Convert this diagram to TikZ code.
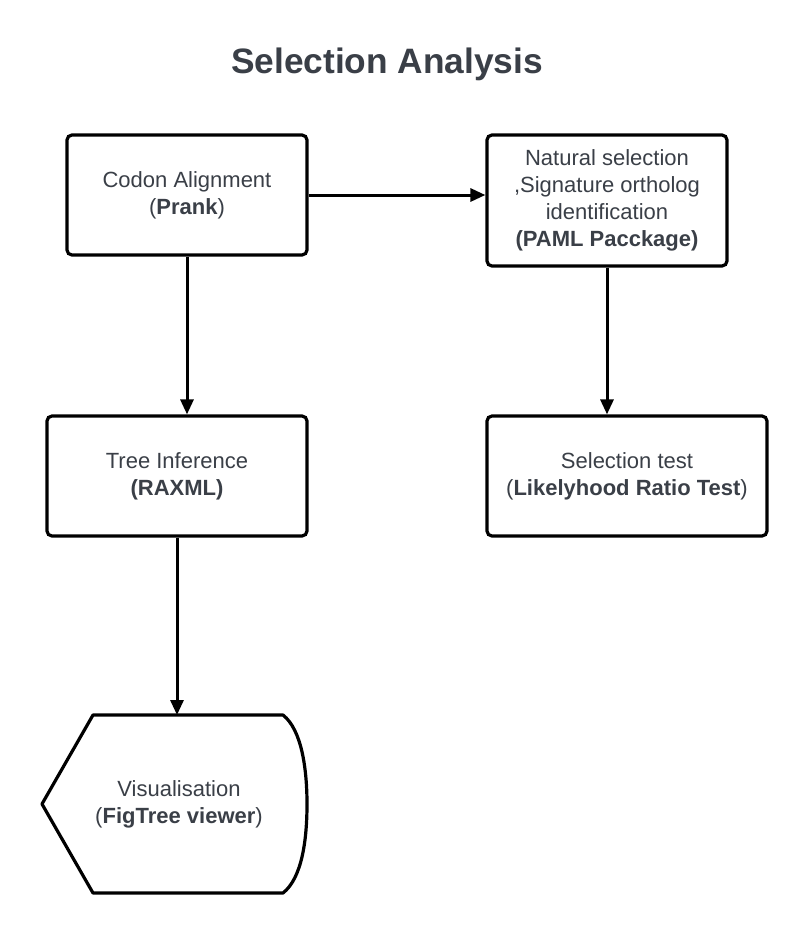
\documentclass[tikz,border=0pt]{standalone}
\usepackage{fontspec}
\setmainfont{Liberation Sans}
\usetikzlibrary{arrows.meta,calc}
\definecolor{txt}{HTML}{3A3F47}
\begin{document}
\begin{tikzpicture}[x=1pt,y=1pt,
  stepbox/.style={draw=black,line width=3.2pt,rounded corners=5pt,fill=white,
    align=center,inner sep=0pt,text=txt,font=\fontsize{22}{27}\selectfont},
  conn/.style={draw=black,line width=3pt,-{Triangle[length=15pt,width=13pt]}}]
\useasboundingbox (0,0) rectangle (807,-935);
\fill[white] (0,0) rectangle (807,-935);
\node[text=txt,font=\fontsize{35.3}{40}\selectfont\bfseries] (title) at (387,-64) {Selection Analysis};
\node[stepbox,minimum width=240pt,minimum height=120pt] (codon) at (187,-195)
  {Codon Alignment\\(\textbf{Prank})};
\node[stepbox,minimum width=240pt,minimum height=131pt] (nat) at (607,-200.5)
  {Natural selection\\,Signature ortholog\\identification\\\textbf{(PAML Pacckage)}};
\node[stepbox,minimum width=260pt,minimum height=120pt] (tree) at (177,-476)
  {Tree Inference\\\textbf{(RAXML)}};
\node[stepbox,minimum width=280pt,minimum height=120pt] (sel) at (627,-476)
  {Selection test\\(\textbf{Likelyhood Ratio Test})};
\draw[line width=3.2pt,line join=round,fill=white]
  (93,-715) -- (283,-715) .. controls (302,-730) and (307,-770) .. (307,-804)
  .. controls (307,-840) and (302,-878) .. (283,-893) -- (93,-893) -- (42,-804) -- cycle;
\node[align=center,text=txt,font=\fontsize{22}{27}\selectfont] (vis) at (179,-804)
  {Visualisation\\(\textbf{FigTree viewer})};
\coordinate (vistop) at (177,-715);
\draw[conn] (codon.east) -- (codon.east -| nat.west);
\draw[conn] (codon.south) -- (codon.south |- tree.north);
\draw[conn] (nat.south) -- (nat.south |- sel.north);
\draw[conn] (tree.south) -- (vistop);
\end{tikzpicture}
\end{document}
